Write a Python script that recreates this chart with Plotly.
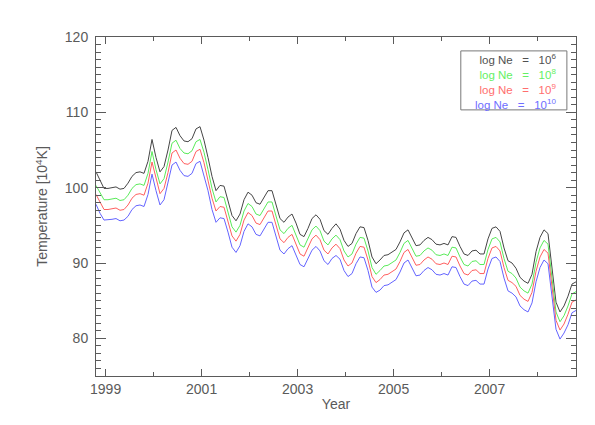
import plotly.graph_objects as go

# Monthly samples starting at 1998.8
start_year = 1998.8
n_months = 121
years = [start_year + i / 12 for i in range(n_months)]

t_ne6 = [102.1, 101.0, 99.9, 99.9, 100.0, 100.1, 99.8, 99.9, 100.6, 101.5,
         102.0, 102.1, 101.9, 103.5, 106.4, 104.0, 102.1, 102.8, 105.0, 107.6,
         108.0, 106.9, 106.2, 106.1, 106.5, 107.8, 108.1, 106.3, 104.0, 101.5,
         99.6, 100.3, 100.2, 98.3, 96.3, 95.6, 96.5, 98.4, 99.4, 99.0,
         98.0, 97.8, 98.7, 99.6, 99.6, 97.9, 95.9, 95.4, 96.1, 96.5,
         95.3, 93.8, 93.5, 94.6, 95.9, 96.4, 95.8, 94.3, 93.8, 94.6,
         95.2, 94.5, 93.0, 92.2, 92.6, 93.9, 94.8, 94.7, 93.0, 90.8,
         89.9, 90.4, 91.0, 91.1, 91.5, 91.8, 92.8, 94.0, 94.4, 93.3,
         92.3, 92.4, 93.0, 93.4, 93.1, 92.5, 92.4, 92.6, 92.4, 93.5,
         93.4, 92.2, 91.2, 91.0, 91.6, 91.7, 91.2, 91.2, 93.2, 94.6,
         94.8, 94.2, 92.0, 90.3, 90.0, 89.3, 88.1, 87.6, 87.3, 88.5,
         91.5, 93.4, 94.4, 93.9, 89.5, 84.8, 83.5, 84.3, 85.6, 87.2,
         87.5]

t_ne8 = [100.3, 99.4, 98.4, 98.4, 98.5, 98.6, 98.3, 98.4, 99.0, 99.9,
         100.4, 100.5, 100.3, 101.9, 104.8, 102.4, 100.5, 101.2, 103.4, 105.9,
         106.3, 105.2, 104.6, 104.5, 104.9, 106.1, 106.4, 104.7, 102.4, 99.9,
         98.1, 98.8, 98.7, 96.8, 94.8, 94.1, 95.0, 96.9, 97.9, 97.5,
         96.5, 96.3, 97.2, 98.1, 98.1, 96.4, 94.4, 93.9, 94.6, 95.0,
         93.8, 92.4, 92.1, 93.2, 94.4, 94.9, 94.3, 92.9, 92.4, 93.2,
         93.7, 93.1, 91.6, 90.8, 91.2, 92.5, 93.4, 93.3, 91.6, 89.4,
         88.5, 89.0, 89.6, 89.7, 90.1, 90.4, 91.4, 92.6, 93.0, 91.9,
         90.9, 91.0, 91.6, 92.0, 91.7, 91.1, 91.0, 91.2, 91.0, 92.1,
         92.0, 90.8, 89.8, 89.6, 90.2, 90.3, 89.8, 89.8, 91.8, 93.2,
         93.4, 92.8, 90.6, 88.9, 88.6, 88.0, 86.8, 86.3, 86.0, 87.2,
         90.1, 92.0, 93.0, 92.5, 88.2, 83.5, 82.2, 83.0, 84.3, 85.9,
         86.2]

t_ne9 = [99.1, 98.1, 97.1, 97.1, 97.2, 97.3, 97.0, 97.1, 97.7, 98.6,
         99.1, 99.2, 99.0, 100.6, 103.4, 101.1, 99.2, 99.9, 102.0, 104.6,
         105.0, 103.9, 103.2, 103.1, 103.5, 104.8, 105.1, 103.3, 101.1, 98.6,
         96.9, 97.5, 97.4, 95.6, 93.6, 92.9, 93.8, 95.7, 96.7, 96.3,
         95.3, 95.1, 96.0, 96.9, 96.9, 95.2, 93.2, 92.7, 93.4, 93.8,
         92.6, 91.2, 90.9, 92.0, 93.2, 93.7, 93.1, 91.7, 91.2, 92.0,
         92.5, 91.9, 90.4, 89.6, 90.0, 91.3, 92.2, 92.1, 90.4, 88.2,
         87.4, 87.8, 88.4, 88.5, 88.9, 89.2, 90.2, 91.4, 91.8, 90.7,
         89.7, 89.8, 90.4, 90.8, 90.5, 89.9, 89.8, 90.0, 89.8, 90.9,
         90.8, 89.6, 88.6, 88.4, 89.0, 89.1, 88.6, 88.6, 90.6, 92.0,
         92.2, 91.6, 89.4, 87.7, 87.4, 86.9, 85.7, 85.2, 84.9, 86.1,
         88.9, 90.8, 91.8, 91.3, 87.1, 82.4, 81.1, 81.9, 83.2, 84.8,
         85.1]

t_ne10 = [97.8, 96.6, 95.7, 95.7, 95.8, 95.9, 95.6, 95.7, 96.2, 97.1,
          97.6, 97.7, 97.5, 99.1, 101.8, 99.6, 97.7, 98.4, 100.5, 103.0,
          103.4, 102.3, 101.6, 101.5, 101.9, 103.2, 103.5, 101.7, 99.6, 97.1,
          95.4, 96.0, 95.9, 94.1, 92.1, 91.4, 92.3, 94.2, 95.2, 94.8,
          93.8, 93.6, 94.5, 95.4, 95.4, 93.7, 91.7, 91.2, 91.9, 92.3,
          91.1, 89.8, 89.5, 90.6, 91.7, 92.2, 91.6, 90.3, 89.8, 90.6,
          91.0, 90.5, 89.0, 88.2, 88.6, 89.9, 90.8, 90.7, 89.0, 86.8,
          86.1, 86.4, 87.0, 87.1, 87.5, 87.8, 88.8, 90.0, 90.4, 89.3,
          88.3, 88.4, 89.0, 89.4, 89.1, 88.5, 88.4, 88.6, 88.4, 89.5,
          89.4, 88.2, 87.2, 87.0, 87.6, 87.7, 87.2, 87.2, 89.2, 90.6,
          90.8, 90.2, 88.0, 86.3, 86.0, 85.5, 84.3, 83.8, 83.5, 84.7,
          87.5, 89.4, 90.4, 89.9, 85.7, 81.2, 79.9, 80.7, 81.8, 83.4,
          83.7]

series_names = ["log&nbsp;Ne&nbsp;&nbsp;&nbsp;=&nbsp;&nbsp;&nbsp;10<sup>6</sup>",
                "log&nbsp;Ne&nbsp;&nbsp;&nbsp;=&nbsp;&nbsp;&nbsp;10<sup>8</sup>",
                "log&nbsp;Ne&nbsp;&nbsp;&nbsp;=&nbsp;&nbsp;&nbsp;10<sup>9</sup>",
                "log&nbsp;Ne&nbsp;&nbsp;&nbsp;=&nbsp;&nbsp;&nbsp;10<sup>10</sup>"]
series_values = [t_ne6, t_ne8, t_ne9, t_ne10]
line_colors = ["rgb(70,70,70)", "rgb(90,235,90)", "rgb(255,95,95)", "rgb(100,100,255)"]
text_colors = ["rgb(80,80,80)", "rgb(100,240,100)", "rgb(255,110,110)", "rgb(110,110,255)"]

x_tickvals = [1999, 2001, 2003, 2005, 2007]
x_ticklabels = ["1999", "2001", "2003", "2005", "2007"]
y_tickvals = [80, 90, 100, 110, 120]

fig = go.Figure()
for name, vals, col in zip(series_names, series_values, line_colors):
    fig.add_trace(go.Scatter(x=years, y=vals, mode="lines", name=name,
                             line=dict(color=col, width=1), showlegend=False))

axis_color = "rgb(90,90,90)"
font_family = "Liberation Sans, Arial, sans-serif"

fig.update_layout(
    width=595, height=425,
    margin=dict(l=88, r=27, t=29, b=57),
    paper_bgcolor="white", plot_bgcolor="white",
    font=dict(family=font_family, size=14, color=axis_color),
)
fig.update_xaxes(
    range=[1998.8, 2008.8], tickvals=x_tickvals, ticktext=x_ticklabels,
    ticks="inside", ticklen=7, tickcolor=axis_color, tickwidth=1,
    showline=True, linecolor=axis_color, linewidth=1, mirror="ticks",
    showgrid=False, zeroline=False, automargin=False,
    minor=dict(dtick=1, tick0=1999, ticks="inside", ticklen=4, tickcolor=axis_color, showgrid=False),
    title=dict(text="Year", font=dict(size=14, color=axis_color), standoff=3),
    tickfont=dict(size=14, color=axis_color),
)
fig.update_yaxes(
    range=[75, 120], tickvals=y_tickvals,
    ticks="inside", ticklen=10, tickcolor=axis_color, tickwidth=1,
    showline=True, linecolor=axis_color, linewidth=1, mirror="ticks",
    showgrid=False, zeroline=False, automargin=False,
    minor=dict(dtick=1, tick0=75, ticks="inside", ticklen=5, tickcolor=axis_color, showgrid=False),
    title=dict(text="Temperature [10<sup>4</sup>K]", font=dict(size=14, color=axis_color), standoff=13),
    tickfont=dict(size=14, color=axis_color),
    ticklabelstandoff=4,
)

# Legend box with one multi-line, right-aligned text
fig.add_shape(type="rect", xref="paper", yref="paper",
              x0=0.760, x1=0.981, y0=0.785, y1=0.959,
              line=dict(color="rgb(120,120,120)", width=1), fillcolor="white", layer="above")
legend_lines = [f"<span style='color:{c}'>{n}</span>" for n, c in zip(series_names, text_colors)]
fig.add_annotation(
    xref="paper", yref="paper", x=0.960, y=0.869, xanchor="right", yanchor="middle",
    text="<br>".join(legend_lines), showarrow=False, align="right", borderpad=0,
    font=dict(size=11.5, family=font_family),
)

fig.write_html("out.html")
